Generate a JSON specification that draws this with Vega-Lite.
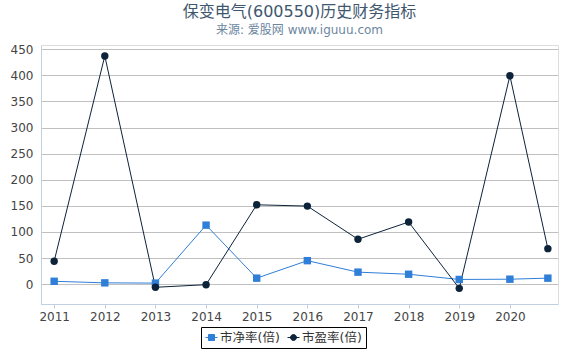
{
  "$schema": "https://vega.github.io/schema/vega-lite/v6.json",
  "width": 517,
  "height": 259,
  "autosize": {"type": "none"},
  "padding": {"left": 41, "top": 45, "right": 12, "bottom": 46},
  "background": "white",
  "title": {
    "text": "保变电气(600550)历史财务指标",
    "subtitle": "来源: 爱股网 www.iguuu.com",
    "anchor": "middle",
    "fontSize": 16,
    "fontWeight": "normal",
    "color": "#3e576f",
    "subtitleFontSize": 12,
    "subtitleColor": "#6d869f",
    "subtitlePadding": 5,
    "offset": 7,
    "font": "DejaVu Sans, Noto Sans CJK SC",
    "subtitleFont": "DejaVu Sans, Noto Sans CJK SC"
  },
  "data": {
    "values": [
      {"year": 2011, "series": "市净率(倍)", "value": 5.5},
      {"year": 2012, "series": "市净率(倍)", "value": 2.5},
      {"year": 2013, "series": "市净率(倍)", "value": 2},
      {"year": 2014, "series": "市净率(倍)", "value": 113},
      {"year": 2015, "series": "市净率(倍)", "value": 11.5},
      {"year": 2016, "series": "市净率(倍)", "value": 45},
      {"year": 2017, "series": "市净率(倍)", "value": 23},
      {"year": 2018, "series": "市净率(倍)", "value": 19},
      {"year": 2019, "series": "市净率(倍)", "value": 9},
      {"year": 2020, "series": "市净率(倍)", "value": 9.5},
      {"year": 2020.75, "series": "市净率(倍)", "value": 11.5},
      {"year": 2011, "series": "市盈率(倍)", "value": 44},
      {"year": 2012, "series": "市盈率(倍)", "value": 437},
      {"year": 2013, "series": "市盈率(倍)", "value": -6},
      {"year": 2014, "series": "市盈率(倍)", "value": -1},
      {"year": 2015, "series": "市盈率(倍)", "value": 152},
      {"year": 2016, "series": "市盈率(倍)", "value": 149.5},
      {"year": 2017, "series": "市盈率(倍)", "value": 86},
      {"year": 2018, "series": "市盈率(倍)", "value": 119},
      {"year": 2019, "series": "市盈率(倍)", "value": -8},
      {"year": 2020, "series": "市盈率(倍)", "value": 399},
      {"year": 2020.75, "series": "市盈率(倍)", "value": 68}
    ]
  },
  "encoding": {
    "x": {
      "field": "year",
      "type": "quantitative",
      "scale": {"domain": [2010.74, 2020.95], "nice": false, "zero": false},
      "axis": {
        "title": null,
        "values": [2011, 2012, 2013, 2014, 2015, 2016, 2017, 2018, 2019, 2020],
        "format": "d",
        "grid": false,
        "domainColor": "#c0d0e0",
        "tickColor": "#c0d0e0",
        "tickSize": 4,
        "labelPadding": 3,
        "labelFontSize": 12,
        "labelColor": "#444444",
        "labelFont": "DejaVu Sans"
      }
    },
    "y": {
      "field": "value",
      "type": "quantitative",
      "scale": {"domain": [-38, 458], "nice": false, "zero": false},
      "axis": {
        "title": null,
        "values": [0, 50, 100, 150, 200, 250, 300, 350, 400, 450],
        "grid": true,
        "gridColor": "#c0c0c0",
        "domainColor": "#c0d0e0",
        "ticks": false,
        "labelPadding": 8,
        "labelFontSize": 12,
        "labelColor": "#444444",
        "labelFont": "DejaVu Sans"
      }
    },
    "color": {
      "field": "series",
      "type": "nominal",
      "scale": {"domain": ["市净率(倍)", "市盈率(倍)"], "range": ["#2f7ed8", "#0d233a"]},
      "legend": {
        "title": null,
        "orient": "none",
        "direction": "horizontal",
        "legendX": 160,
        "legendY": 282,
        "strokeColor": "#000000",
        "padding": 4,
        "labelFontSize": 12.5,
        "labelFont": "DejaVu Sans, Noto Sans CJK SC",
        "labelColor": "#333333",
        "symbolSize": 144,
        "columnPadding": 5,
        "labelOffset": 2,
        "encode": {
          "symbols": {
            "update": {
              "shape": {"signal": "datum.value === '市净率(倍)' ? 'M-1,0L1,0M-0.5,-0.5L0.5,-0.5L0.5,0.5L-0.5,0.5Z' : 'M-1,0L1,0M0.5,0A0.5,0.5 0 1,1 -0.5,0A0.5,0.5 0 1,1 0.5,0Z'"},
              "fill": {"signal": "datum.value === '市净率(倍)' ? '#2f7ed8' : '#0d233a'"},
              "stroke": {"signal": "datum.value === '市净率(倍)' ? '#2f7ed8' : '#0d233a'"},
              "strokeWidth": {"value": 1},
              "strokeOpacity": {"value": 1},
              "opacity": {"value": 1}
            }
          }
        }
      }
    }
  },
  "layer": [
    {"mark": {"type": "line", "strokeWidth": 1}},
    {
      "transform": [{"filter": "datum.series === '市净率(倍)'"}],
      "mark": {"type": "point", "filled": true, "opacity": 1, "size": 55, "shape": "square"}
    },
    {
      "transform": [{"filter": "datum.series === '市盈率(倍)'"}],
      "mark": {"type": "point", "filled": true, "opacity": 1, "size": 55, "shape": "circle"}
    }
  ]
}
